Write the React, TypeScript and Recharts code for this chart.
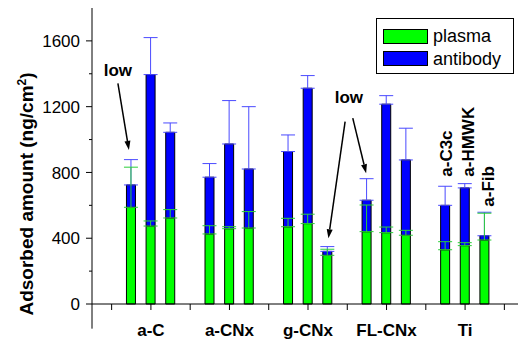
import React from "react";
import {
  BarChart,
  Bar,
  XAxis,
  YAxis,
  ErrorBar,
  Legend,
  ReferenceLine,
  ReferenceDot,
} from "recharts";

// group labels sit on the middle bar of each triple
const groups = ["a-C", "a-CNx", "g-CNx", "FL-CNx", "Ti"];
const groupSlots = [3, 7, 11, 15, 19];

// x slot of every bar (one empty slot between groups)
const barSlots = [2, 3, 4, 6, 7, 8, 10, 11, 12, 14, 15, 16, 18, 19, 20];

// ng/cm2
const plasma = [588, 474, 523, 426, 458, 462, 470, 489, 296, 440, 434, 418, 330, 355, 389];
const antibody = [136, 921, 521, 345, 515, 359, 457, 823, 24, 191, 781, 458, 270, 351, 26];
const plasmaErr = [244, 31, 51, 50, 12, 100, 51, 57, 37, 162, 34, 30, 49, 18, 163];
const antibodyErr = [154, 225, 57, 83, 264, 379, 101, 77, 29, 131, 52, 193, 116, 26, 143];

const xTicks = [1, 3, 5, 7, 9, 11, 13, 15, 17, 19, 21];
const topTicks = [1, 2, 3, 4, 5, 6, 7, 8, 9, 10, 11, 12, 13, 14, 15, 16, 17, 18, 19, 20, 21];
const yTicks = [0, 200, 400, 600, 800, 1000, 1200, 1400, 1600];

const GREEN = "#00ff00";
const BLUE = "#0000ff";
const FONT = "'Liberation Sans', Arial, sans-serif";

const rows = barSlots.map((s, i) => ({
  slot: s,
  plasma: plasma[i],
  antibody: antibody[i],
  plasmaErr: [0, plasmaErr[i]],
  antibodyErr: [0, antibodyErr[i]],
}));

const groupAt: Record<number, string> = {};
groupSlots.forEach((s, i) => (groupAt[s] = groups[i]));

const YTick = ({ x, y, payload }: any) => {
  const major = payload.value % 400 === 0;
  return (
    <g>
      <line x1={x - (major ? 6 : 3)} x2={x} y1={y} y2={y} stroke="#000" />
      {major && (
        <text x={x - 12} y={y} dy="0.36em" textAnchor="end" fontSize={17} fill="#000" fontFamily={FONT}>
          {payload.value}
        </text>
      )}
    </g>
  );
};

const XTick = ({ x, y, payload }: any) => {
  const label = groupAt[payload.value];
  return (
    <g>
      <line x1={x} x2={x} y1={y} y2={y + 6} stroke="#000" />
      {label && (
        <text x={x} y={y + 32} textAnchor="middle" fontSize={17} fontWeight="bold" fill="#000" fontFamily={FONT}>
          {label}
        </text>
      )}
    </g>
  );
};

const Arrow = (p: any) => {
  const { x1, y1, x2, y2 } = p;
  const a = Math.atan2(y2 - y1, x2 - x1);
  const L = 9;
  const W = 3;
  const bx = x2 - L * Math.cos(a);
  const by = y2 - L * Math.sin(a);
  const pts = `${x2},${y2} ${bx + W * Math.sin(a)},${by - W * Math.cos(a)} ${bx - W * Math.sin(a)},${by + W * Math.cos(a)}`;
  return (
    <g>
      <line x1={x1} y1={y1} x2={bx} y2={by} stroke="#000" strokeWidth={1.5} />
      <polygon points={pts} fill="#000" />
    </g>
  );
};

const lowText = (p: any) => (
  <text x={p.cx} y={p.cy} textAnchor="middle" fontSize={17} fontWeight="bold" fill="#000" fontFamily={FONT}>
    low
  </text>
);

const vertText = (txt: string) => (p: any) => (
  <text
    x={p.cx}
    y={p.cy}
    transform={`rotate(-90 ${p.cx} ${p.cy})`}
    textAnchor="start"
    fontSize={17}
    fontWeight="bold"
    fill="#000"
    fontFamily={FONT}
  >
    {txt}
  </text>
);

const LegendBox = () => (
  <div
    style={{
      border: "1px solid #000",
      background: "#fff",
      padding: "6px 12px 3px 6px",
      fontFamily: FONT,
      fontSize: 18,
      color: "#000",
    }}
  >
    {[
      ["plasma", GREEN],
      ["antibody", BLUE],
    ].map(([name, c]) => (
      <div key={name} style={{ display: "flex", alignItems: "center", height: 22.6 }}>
        <span
          style={{
            display: "inline-block",
            width: 45,
            height: 15,
            background: c,
            border: "1px solid #000",
            marginRight: 5,
            boxSizing: "border-box",
          }}
        />
        <span style={{ lineHeight: "20px" }}>{name}</span>
      </div>
    ))}
  </div>
);

const YLabel = () => (
  <text
    x={33}
    y={194}
    transform="rotate(-90 33 194)"
    textAnchor="middle"
    fontSize={19}
    fontWeight="bold"
    fill="#000"
    fontFamily={FONT}
  >
    Adsorbed amount (ng/cm
    <tspan dy={-7} fontSize={12}>2</tspan>
    <tspan dy={7}>)</tspan>
  </text>
);

export default function App() {
  return (
    <div
      style={{
        position: "absolute",
        left: 0,
        top: 0,
        width: 518,
        height: 340,
        overflow: "hidden",
        background: "#fff",
        fontFamily: FONT,
      }}
    >
      <BarChart width={524} height={340} data={rows} margin={{ top: 8, right: 0, bottom: 0, left: 0 }}>
        <XAxis
          dataKey="slot"
          type="number"
          domain={[0, 22]}
          ticks={xTicks}
          interval={0}
          height={36}
          tickSize={0}
          tickMargin={0}
          tickLine={false}
          tick={<XTick />}
          axisLine={{ stroke: "#000" }}
        />
        <XAxis
          xAxisId="top"
          dataKey="slot"
          type="number"
          orientation="top"
          domain={[0, 22]}
          ticks={topTicks}
          interval={0}
          height={0}
          mirror
          tickSize={3}
          tick={false}
          tickLine={{ stroke: "#000" }}
          axisLine={{ stroke: "#000" }}
        />
        <YAxis
          type="number"
          domain={[0, 1800]}
          ticks={yTicks}
          interval={0}
          width={92}
          tickSize={0}
          tickMargin={0}
          tickLine={false}
          tick={<YTick />}
          axisLine={{ stroke: "#000" }}
          label={<YLabel />}
        />
        <Legend
          content={<LegendBox />}
          layout="horizontal"
          verticalAlign="middle"
          align="center"
          wrapperStyle={{ position: "absolute", left: 376, top: 18, width: "auto", height: "auto" }}
        />
        <ReferenceLine
          segment={[
            { x: 0, y: 0 },
            { x: 0, y: -150 },
          ]}
          stroke="#000"
          ifOverflow="visible"
        />
        <Bar dataKey="plasma" stackId="s" fill={GREEN} stroke="#000" barSize={9} isAnimationActive={false} />
        <Bar dataKey="antibody" stackId="s" fill={BLUE} stroke="#000" barSize={9} isAnimationActive={false}>
          <ErrorBar dataKey="antibodyErr" width={7} stroke="#4a4aff" strokeWidth={1} direction="y" />
        </Bar>
        {/* plasma whiskers drawn over the antibody bars */}
        <Bar
          xAxisId="top"
          dataKey="plasma"
          fill="none"
          stroke="none"
          barSize={9}
          isAnimationActive={false}
          legendType="none"
        >
          <ErrorBar dataKey="plasmaErr" width={7} stroke="#2ccf3a" strokeWidth={1} direction="y" />
        </Bar>
        <ReferenceDot x={1.32} y={1384} r={0} shape={lowText} />
        <ReferenceLine
          segment={[
            { x: 1.32, y: 1342 },
            { x: 1.88, y: 937 },
          ]}
          shape={Arrow}
        />
        <ReferenceDot x={13.08} y={1221} r={0} shape={lowText} />
        <ReferenceLine
          segment={[
            { x: 12.89, y: 1109 },
            { x: 12.04, y: 400 },
          ]}
          shape={Arrow}
        />
        <ReferenceLine
          segment={[
            { x: 13.28, y: 1130 },
            { x: 13.96, y: 795 },
          ]}
          shape={Arrow}
        />
        <ReferenceDot x={18.33} y={774} r={0} shape={vertText("a-C3c")} />
        <ReferenceDot x={19.43} y={774} r={0} shape={vertText("a-HMWK")} />
        <ReferenceDot x={20.45} y={592} r={0} shape={vertText("a-Fib")} />
      </BarChart>
    </div>
  );
}
